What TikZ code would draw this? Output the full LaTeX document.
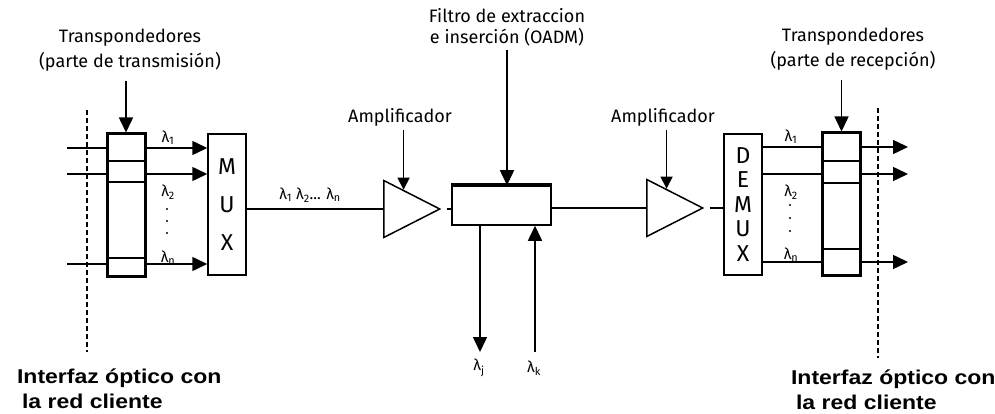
\documentclass[tikz,border=0pt]{standalone}
\usepackage{fontspec}
\setmainfont{Fira Sans}
\newfontfamily\clientfont[FakeStretch=1.15]{Liberation Sans}
\usetikzlibrary{arrows.meta,positioning,shapes.geometric,calc}

\begin{document}
\begin{tikzpicture}[
x=1pt, y=-1pt, line width=1.5pt,
xpond/.style={rectangle, draw, line width=3pt, minimum width=38pt, minimum height=142pt, inner sep=0pt},
muxbox/.style={rectangle, draw, minimum width=38pt, minimum height=141pt, align=center, inner sep=0pt},
oadmbox/.style={rectangle, draw, minimum width=99pt, minimum height=39pt, inner sep=0pt},
amp/.style={isosceles triangle, isosceles triangle stretches, draw, minimum width=57pt, minimum height=56pt, inner sep=0pt},
arrow/.style={-{Triangle[length=15pt,width=14pt]}},
smallarrow/.style={-{Triangle[length=12pt,width=12pt]}},
lbl/.style={align=center, font=\fontsize{18}{25}\selectfont},
wl/.style={inner sep=0pt, font=\fontsize{15.5}{17}\selectfont},
client/.style={align=left, anchor=west, font=\clientfont\bfseries\fontsize{20}{25}\selectfont},
divider/.style={line width=2.5pt},
boundary/.style={dash pattern=on 5pt off 3pt, line width=1.2pt}
]
\path[fill=white, use as bounding box] (0,0) rectangle (995,414);

% transmitting end
\node[xpond] (txl) at (126,205) {};
\foreach \y in {161,182,258} \draw[divider] (107,\y) -- (145,\y);
\node[muxbox, font=\fontsize{23}{38}\selectfont] (mux) at (227,204.5) {M\\U\\X};
\coordinate (inl1) at (67,148);
\coordinate (inl2) at (67,174);
\coordinate (inl3) at (67,264);
\foreach \c in {inl1,inl2,inl3} {
  \draw (\c) -- (\c -| txl.west);
  \draw[arrow] (\c -| txl.east) -- (\c -| mux.west);
}
\node[wl] (tl1) at (168,138) {λ\textsubscript{1}};
\node[wl] (tl2) at (168,192) {λ\textsubscript{2}};
\node[wl] (tln) at (168,258) {λ\textsubscript{n}};
\foreach \y in {209,221,233} \fill (167,\y) circle (1.2pt);
\node[lbl] (txlbl) at (130,50) {Transpondedores\\(parte de transmisión)};
\draw[arrow, shorten <=6pt] (txlbl.south -| txl.north) -- (txl.north);
\draw[boundary] (87,110) -- (87,352);
\node[client] (clil) at (13,388.5) {Interfaz óptico con\\\hspace{5pt}la red cliente};

% line with amplifiers and OADM
\node[amp, anchor=west] (amp1) at (383,209) {};
\node[oadmbox] (oadm) at (501.5,205.5) {};
\draw[line width=4pt] (oadm.north west) -- (oadm.north east);
\node[amp, anchor=west] (amp2) at (646,208) {};
\draw (mux.east |- amp1.west) -- (amp1.west);
\draw[shorten <=5pt] (amp1.apex) -- (amp1.apex -| oadm.west);
\draw (oadm.east |- amp2.west) -- (amp2.west);
\node[wl] (wdm) at (310,195) {λ\textsubscript{1} λ\textsubscript{2}... λ\textsubscript{n}};

\node[lbl] (amplbl1) at (400,117) {Amplificador};
\node[lbl] (amplbl2) at (663,117) {Amplificador};
\coordinate (amp1top) at ($(amp1.left corner)!0.35!(amp1.apex)$);
\coordinate (amp2top) at ($(amp2.left corner)!0.35!(amp2.apex)$);
\draw[smallarrow] (amplbl1.south -| amp1top) -- (amp1top);
\draw[smallarrow] (amplbl2.south -| amp2top) -- (amp2top);

\node[lbl, font=\fontsize{18}{21}\selectfont] (oadmlbl) at (507,27) {Filtro de extraccion\\e inserción (OADM)};
\draw[arrow] (oadmlbl.south) -- (oadmlbl.south |- oadm.north);
\coordinate (dropj) at (480,352);
\coordinate (addk) at (535,352);
\draw[arrow] (dropj |- oadm.south) -- (dropj);
\draw[arrow] (addk) -- (addk |- oadm.south);
\node[wl] (lj) at (479,368) {λ\textsubscript{j}};
\node[wl] (lk) at (534,368) {λ\textsubscript{k}};

% receiving end
\node[muxbox, font=\fontsize{23}{24.5}\selectfont] (demux) at (743,204.5) {D\\E\\M\\U\\X};
\draw[shorten <=5pt] (amp2.apex) -- (amp2.apex -| demux.west);
\node[xpond] (txr) at (841.5,204) {};
\foreach \y in {161,183,249} \draw[divider] (823,\y) -- (860,\y);
\coordinate (outr1) at (908,147);
\coordinate (outr2) at (908,174);
\coordinate (outr3) at (908,262);
\foreach \c in {outr1,outr2,outr3} {
  \draw (\c -| demux.east) -- (\c -| txr.west);
  \draw[arrow] (\c -| txr.east) -- (\c);
}
\node[wl] (rl1) at (791,137) {λ\textsubscript{1}};
\node[wl] (rl2) at (791,192) {λ\textsubscript{2}};
\node[wl] (rln) at (791,255) {λ\textsubscript{n}};
\foreach \y in {205,218,231} \fill (790,\y) circle (1.2pt);
\node[lbl] (rxlbl) at (853,49) {Transpondedores\\(parte de recepción)};
\draw[arrow, shorten <=6pt] (rxlbl.south -| txr.north) -- (txr.north);
\draw[boundary] (878,108) -- (878,358);
\node[client] (clir) at (787,390) {Interfaz óptico con\\\hspace{5pt}la red cliente};
\end{tikzpicture}
\end{document}
